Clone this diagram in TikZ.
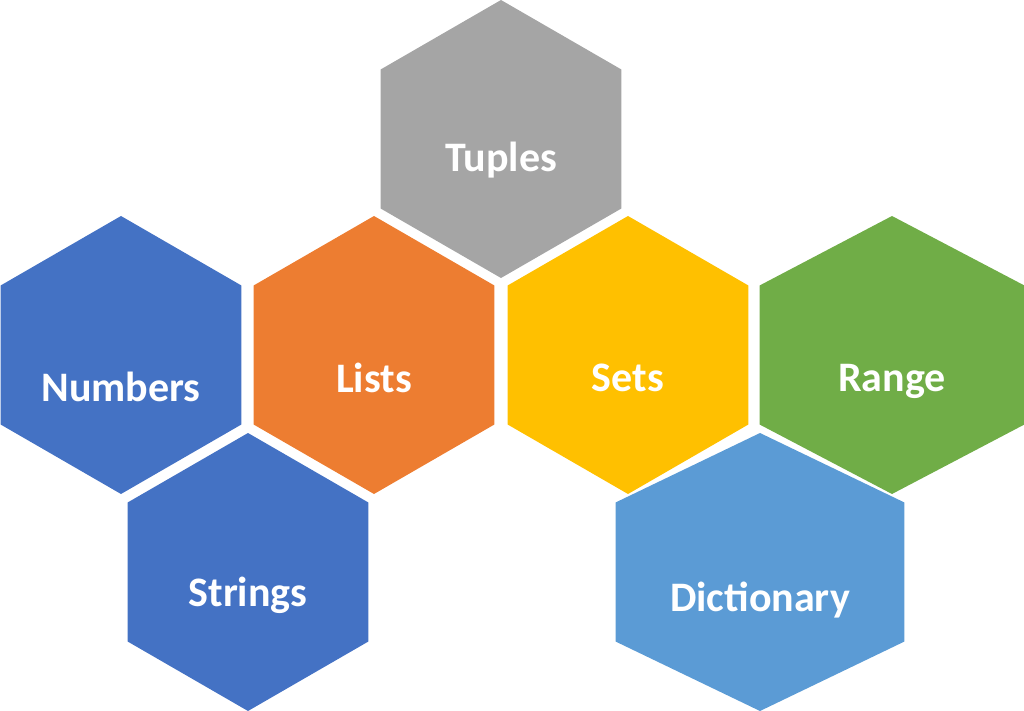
\documentclass[tikz,border=0pt]{standalone}
\usepackage{fontspec}
\setmainfont{Carlito}
\usetikzlibrary{shapes.geometric}
\definecolor{hexblue}{HTML}{4472C4}
\definecolor{hexorange}{HTML}{ED7D31}
\definecolor{hexgray}{HTML}{A5A5A5}
\definecolor{hexyellow}{HTML}{FFC000}
\definecolor{hexgreen}{HTML}{70AD47}
\definecolor{hexlight}{HTML}{5B9BD5}
\tikzset{hex/.style={regular polygon, regular polygon sides=6, shape border rotate=30,
  minimum size=278pt, inner sep=0pt, draw=none},
  hexlabel/.style={text=white, font=\bfseries\fontsize{42}{48}\selectfont}}
\begin{document}
\begin{tikzpicture}[x=1pt,y=-1pt]
\useasboundingbox (0,0) rectangle (1024,711);
\node [hex, fill=hexgray] (tuples) at (501,139) {};
\node [hex, fill=hexblue] (numbers) at (121,355) {};
\node [hex, fill=hexorange] (lists) at (374,355) {};
\node [hex, fill=hexyellow] (sets) at (628,355) {};
\node [hex, fill=hexgreen, xscale=1.1] (range) at (892,355) {};
\node [hex, fill=hexblue] (strings) at (248,572) {};
\node [hex, fill=hexlight, xscale=1.2] (dict) at (760,572) {};
% labels
\node [hexlabel] (tuplest) at (501,160) {Tuples};
\node [hexlabel] (numberst) at (121,387) {Numbers};
\node [hexlabel] (listst) at (374,378) {Lists};
\node [hexlabel] (setst) at (628,378) {Sets};
\node [hexlabel] (ranget) at (892,381) {Range};
\node [hexlabel] (stringst) at (248,595) {Strings};
\node [hexlabel] (dictt) at (760,600) {Dictionary};
\end{tikzpicture}
\end{document}
